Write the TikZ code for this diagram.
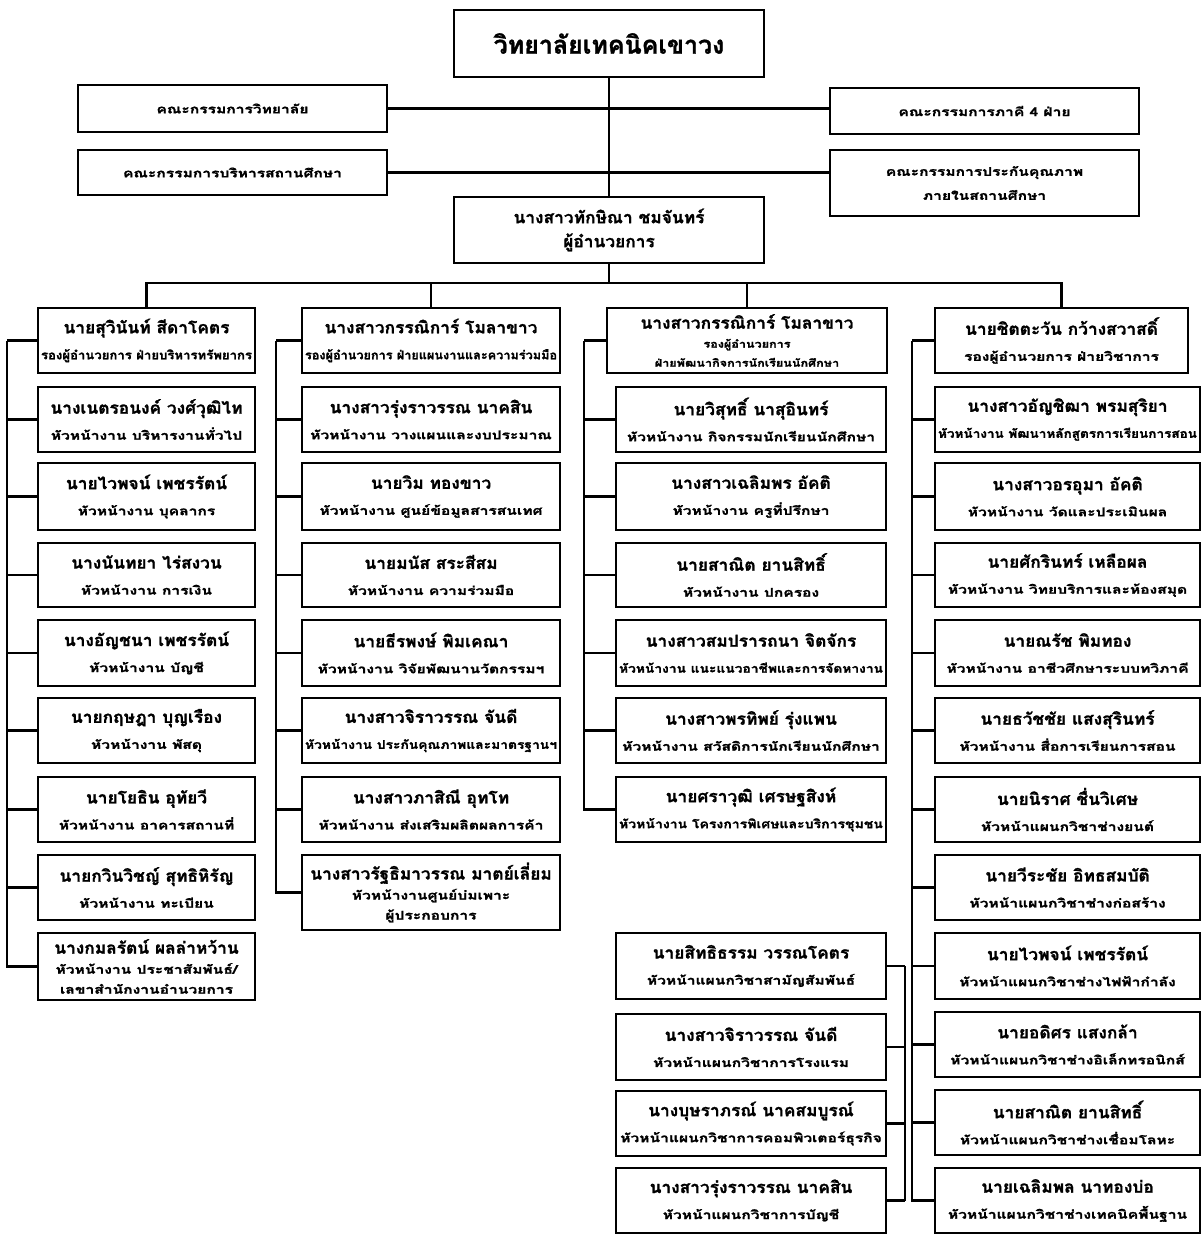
\documentclass[tikz,border=0pt]{standalone}
\usepackage{fontspec}
\setmainfont[Script=Thai,BoldFeatures={FakeBold=1.2}]{Loma}
\usepackage{graphicx}
\newcommand\fitto[2]{\setbox0=\hbox{#2}\ifdim\wd0>#1\relax\pgfmathsetmacro\frr{#1/\the\wd0}\scalebox{\frr}[1]{\box0}\else\box0\fi}
\newcommand\nm[1]{{\fontsize{16.5}{26}\selectfont\fitto{\bw}{\scalebox{1.05}[1]{#1}}}}
\newcommand\tl[1]{{\fontsize{12}{26}\selectfont\fitto{\bw}{\scalebox{1.3}[1]{#1}}}}
\newcommand\hd[1]{{\fontsize{10.5}{26}\selectfont\fitto{\bw}{\scalebox{1.2}[1]{#1}}}}
\tikzset{
  box/.style={draw, line width=2.5pt, inner sep=0pt, outer sep=0pt, align=center,
    font=\bfseries\fontsize{12}{26}\selectfont},
  ln/.style={line width=2.5pt}
}
\newcommand\bx[6]{\pgfmathsetlengthmacro\bw{(#4-#2)*1pt-6pt}%
  \node[box, minimum width={(#4-#2)*1pt}, minimum height={(#5-#3)*1pt}] (#1) at ({(#2+#4)/2},{(#3+#5)/2}) {#6};}
\begin{document}
\begin{tikzpicture}[x=1pt,y=-1pt]
\useasboundingbox[fill=white] (0,0) rectangle (1201,1234);
% top
\bx{top}{454}{10}{764}{77}{{\fontsize{25}{30}\selectfont วิทยาลัยเทคนิคเขาวง}}
\bx{k1}{78}{85}{387}{132}{\tl{คณะกรรมการวิทยาลัย}}
\bx{k2}{78}{150}{387}{195}{\tl{คณะกรรมการบริหารสถานศึกษา}}
\bx{k3}{830}{88}{1139}{134}{\tl{คณะกรรมการภาคี 4 ฝ่าย}}
\bx{k4}{830}{150}{1139}{216}{\tl{คณะกรรมการประกันคุณภาพ}\\[-2pt]\tl{ภายในสถานศึกษา}}
\bx{dir}{454}{197}{764}{263}{\nm{นางสาวทักษิณา ชมจันทร์}\\[-2pt]\nm{ผู้อำนวยการ}}
% column 1
\bx{a0}{38}{308}{255}{373}{\nm{นายสุวินันท์ สีดาโคตร}\\\tl{รองผู้อำนวยการ ฝ่ายบริหารทรัพยากร}}
\bx{a1}{38}{387}{255}{452}{\nm{นางเนตรอนงค์ วงศ์วุฒิไท}\\\tl{หัวหน้างาน บริหารงานทั่วไป}}
\bx{a2}{38}{463}{255}{530}{\nm{นายไวพจน์ เพชรรัตน์}\\\tl{หัวหน้างาน บุคลากร}}
\bx{a3}{38}{543}{255}{607}{\nm{นางนันทยา ไร่สงวน}\\\tl{หัวหน้างาน การเงิน}}
\bx{a4}{38}{620}{255}{686}{\nm{นางอัญชนา เพชรรัตน์}\\\tl{หัวหน้างาน บัญชี}}
\bx{a5}{38}{698}{255}{763}{\nm{นายกฤษฎา บุญเรือง}\\\tl{หัวหน้างาน พัสดุ}}
\bx{a6}{38}{777}{255}{842}{\nm{นายโยธิน อุทัยวี}\\\tl{หัวหน้างาน อาคารสถานที่}}
\bx{a7}{38}{855}{255}{920}{\nm{นายกวินวิชญ์ สุทธิหิรัญ}\\\tl{หัวหน้างาน ทะเบียน}}
\bx{a8}{38}{933}{255}{1000}{\nm{นางกมลรัตน์ ผลล่าหว้าน}\\[-6pt]\tl{หัวหน้างาน ประชาสัมพันธ์/}\\[-6pt]\tl{เลขาสำนักงานอำนวยการ}}
% column 2
\bx{b0}{302}{308}{560}{373}{\nm{นางสาวกรรณิการ์ โมลาขาว}\\\tl{รองผู้อำนวยการ ฝ่ายแผนงานและความร่วมมือ}}
\bx{b1}{302}{387}{560}{452}{\nm{นางสาวรุ่งราวรรณ นาคสิน}\\\tl{หัวหน้างาน วางแผนและงบประมาณ}}
\bx{b2}{302}{463}{560}{530}{\nm{นายวิม ทองขาว}\\\tl{หัวหน้างาน ศูนย์ข้อมูลสารสนเทศ}}
\bx{b3}{302}{543}{560}{607}{\nm{นายมนัส สระสีสม}\\\tl{หัวหน้างาน ความร่วมมือ}}
\bx{b4}{302}{620}{560}{686}{\nm{นายธีรพงษ์ พิมเคณา}\\\tl{หัวหน้างาน วิจัยพัฒนานวัตกรรมฯ}}
\bx{b5}{302}{698}{560}{763}{\nm{นางสาวจิราวรรณ จันดี}\\\tl{หัวหน้างาน ประกันคุณภาพและมาตรฐานฯ}}
\bx{b6}{302}{777}{560}{842}{\nm{นางสาวภาสิณี อุทโท}\\\tl{หัวหน้างาน ส่งเสริมผลิตผลการค้า}}
\bx{b7}{302}{855}{560}{930}{\nm{นางสาวรัฐธิมาวรรณ มาตย์เลี่ยม}\\[-6pt]\tl{หัวหน้างานศูนย์บ่มเพาะ}\\[-6pt]\tl{ผู้ประกอบการ}}
% column 3
\bx{c0}{607}{308}{887}{373}{\nm{นางสาวกรรณิการ์ โมลาขาว}\\[-7pt]\hd{รองผู้อำนวยการ}\\[-7pt]\hd{ฝ่ายพัฒนากิจการนักเรียนนักศึกษา}}
\bx{c1}{616}{387}{886}{452}{\nm{นายวิสุทธิ์ นาสุอินทร์}\\\tl{หัวหน้างาน กิจกรรมนักเรียนนักศึกษา}}
\bx{c2}{616}{463}{886}{530}{\nm{นางสาวเฉลิมพร อัคติ}\\\tl{หัวหน้างาน ครูที่ปรึกษา}}
\bx{c3}{616}{543}{886}{607}{\nm{นายสาณิต ยานสิทธิ์}\\\tl{หัวหน้างาน ปกครอง}}
\bx{c4}{616}{620}{886}{686}{\nm{นางสาวสมปรารถนา จิตจักร}\\\tl{หัวหน้างาน แนะแนวอาชีพและการจัดหางาน}}
\bx{c5}{616}{698}{886}{763}{\nm{นางสาวพรทิพย์ รุ่งแพน}\\\tl{หัวหน้างาน สวัสดิการนักเรียนนักศึกษา}}
\bx{c6}{616}{777}{886}{842}{\nm{นายศราวุฒิ เศรษฐสิงห์}\\\tl{หัวหน้างาน โครงการพิเศษและบริการชุมชน}}
\bx{e1}{616}{933}{886}{999}{\nm{นายสิทธิธรรม วรรณโคตร}\\\tl{หัวหน้าแผนกวิชาสามัญสัมพันธ์}}
\bx{e2}{616}{1014}{886}{1080}{\nm{นางสาวจิราวรรณ จันดี}\\\tl{หัวหน้าแผนกวิชาการโรงแรม}}
\bx{e3}{616}{1091}{886}{1156}{\nm{นางบุษราภรณ์ นาคสมบูรณ์}\\\tl{หัวหน้าแผนกวิชาการคอมพิวเตอร์ธุรกิจ}}
\bx{e4}{616}{1168}{886}{1233}{\nm{นางสาวรุ่งราวรรณ นาคสิน}\\\tl{หัวหน้าแผนกวิชาการบัญชี}}
% column 4
\bx{d0}{935}{308}{1188}{373}{\nm{นายชิตตะวัน กว้างสวาสดิ์}\\\tl{รองผู้อำนวยการ ฝ่ายวิชาการ}}
\bx{d1}{935}{387}{1200}{452}{\nm{นางสาวอัญชิฒา พรมสุริยา}\\\tl{หัวหน้างาน พัฒนาหลักสูตรการเรียนการสอน}}
\bx{d2}{935}{463}{1200}{530}{\nm{นางสาวอรอุมา อัคติ}\\\tl{หัวหน้างาน วัดและประเมินผล}}
\bx{d3}{935}{543}{1200}{607}{\nm{นายศักรินทร์ เหลือผล}\\\tl{หัวหน้างาน วิทยบริการและห้องสมุด}}
\bx{d4}{935}{620}{1200}{686}{\nm{นายณรัช พิมทอง}\\\tl{หัวหน้างาน อาชีวศึกษาระบบทวิภาคี}}
\bx{d5}{935}{698}{1200}{763}{\nm{นายธวัชชัย แสงสุรินทร์}\\\tl{หัวหน้างาน สื่อการเรียนการสอน}}
\bx{d6}{935}{777}{1200}{842}{\nm{นายนิราศ ชื่นวิเศษ}\\\tl{หัวหน้าแผนกวิชาช่างยนต์}}
\bx{d7}{935}{855}{1200}{920}{\nm{นายวีระชัย อิทธสมบัติ}\\\tl{หัวหน้าแผนกวิชาช่างก่อสร้าง}}
\bx{d8}{935}{933}{1200}{999}{\nm{นายไวพจน์ เพชรรัตน์}\\\tl{หัวหน้าแผนกวิชาช่างไฟฟ้ากำลัง}}
\bx{d9}{935}{1012}{1200}{1077}{\nm{นายอดิศร แสงกล้า}\\\tl{หัวหน้าแผนกวิชาช่างอิเล็กทรอนิกส์}}
\bx{d10}{935}{1090}{1200}{1155}{\nm{นายสาณิต ยานสิทธิ์}\\\tl{หัวหน้าแผนกวิชาช่างเชื่อมโลหะ}}
\bx{d11}{935}{1168}{1200}{1233}{\nm{นายเฉลิมพล นาทองบ่อ}\\\tl{หัวหน้าแผนกวิชาช่างเทคนิคพื้นฐาน}}
% connectors top
\draw[ln] (top.south) -- (dir.north);
\draw[ln] (k1.east) -- (k3.west |- k1.east);
\draw[ln] (k2.east) -- (k4.west |- k2.east);
\coordinate (bus) at (608,283);
\draw[ln] (dir.south) -- (dir.south |- bus);
\draw[ln] (a0.north) |- (d0.north |- bus) -- (d0.north);
\draw[ln] (b0.north) -- (b0.north |- bus);
\draw[ln] (c0.north) -- (c0.north |- bus);
% spines
\coordinate (sa) at (7,340.5);
\coordinate (sb) at (276,340.5);
\coordinate (sc) at (584,340.5);
\coordinate (sd) at (912,340.5);
\coordinate (se) at (905,966);
\foreach \n in {a0,a1,a2,a3,a4,a5,a6,a7,a8} \draw[ln] (sa) |- (\n.west);
\foreach \n in {b0,b1,b2,b3,b4,b5,b6,b7} \draw[ln] (sb) |- (\n.west);
\foreach \n in {c0,c1,c2,c3,c4,c5,c6} \draw[ln] (sc) |- (\n.west);
\foreach \n in {d0,d1,d2,d3,d4,d5,d6,d7,d8,d9,d10,d11} \draw[ln] (sd) |- (\n.west);
\foreach \n in {e1,e2,e3,e4} \draw[ln] (\n.east) -- (\n.east -| se);
\draw[ln] (se |- e1.east) -- (se |- e4.east);
\end{tikzpicture}
\end{document}
